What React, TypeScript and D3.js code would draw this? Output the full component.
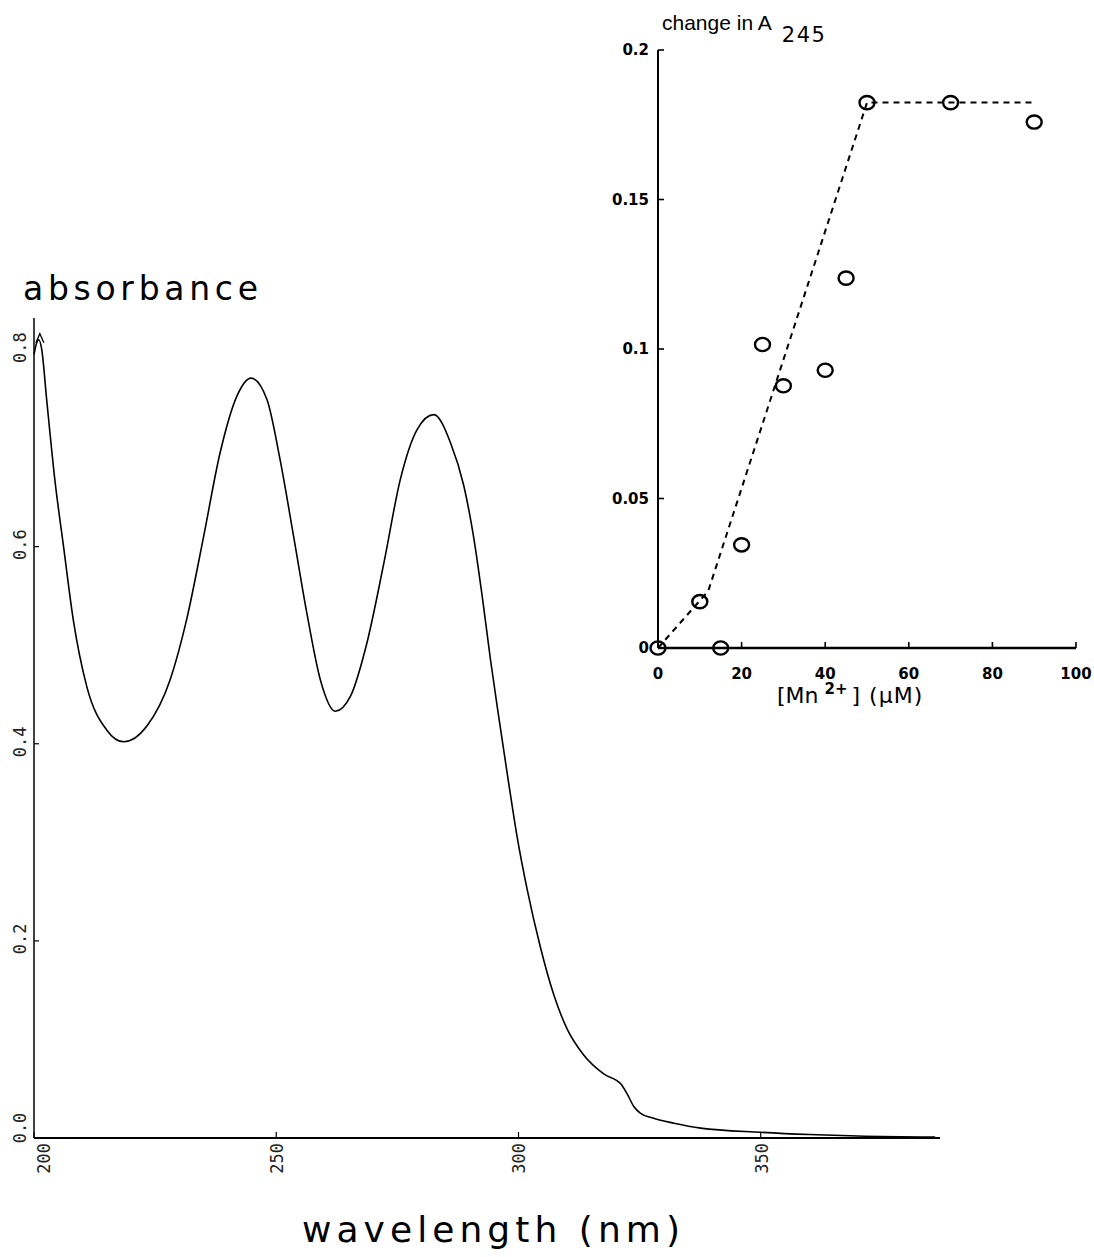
import React from "react";
import * as d3 from "d3";

// ---- main spectrum data ----
const wavelength = [
  200.0, 200.5, 201.0, 201.6, 202.6, 204.3, 206.1, 208.1, 210.9, 215.0, 218.5, 223.3, 228.1, 231.5,
  235.0, 238.4, 241.9, 244.8, 248.1, 250.8, 253.6, 256.3, 259.1, 262.2, 265.3, 268.7, 272.2, 275.6,
  279.1, 282.5, 286.0, 288.7, 290.8, 292.5, 294.2, 295.9, 297.7, 299.7, 301.8, 304.5, 307.3, 310.0,
  313.5, 317.6, 321.1, 322.4, 323.8, 325.2, 327.9, 332.1, 337.6, 350.0, 360.0, 370.0, 386.0,
];
const absorbance = [
  0.795, 0.806, 0.81, 0.8, 0.75, 0.668, 0.6, 0.526, 0.458, 0.414, 0.402, 0.418, 0.465, 0.526,
  0.61, 0.695, 0.753, 0.771, 0.749, 0.688, 0.61, 0.533, 0.465, 0.433, 0.448, 0.502, 0.583, 0.668,
  0.719, 0.734, 0.705, 0.662, 0.608, 0.55, 0.486, 0.428, 0.369, 0.306, 0.252, 0.194, 0.145, 0.111,
  0.084, 0.065, 0.055, 0.045, 0.032, 0.025, 0.02, 0.015, 0.01, 0.0058, 0.0035, 0.002, 0.001,
];
const mainXTicks = [200, 250, 300, 350];
const mainXTickLabels = ["200", "250", "300", "350"];
const mainYTicks = [0, 0.2, 0.4, 0.6, 0.8];
const mainYTickLabels = ["0.0", "0.2", "0.4", "0.6", "0.8"];

// ---- inset data ----
const mnConc = [0, 10, 15, 20, 25, 30, 40, 45, 50, 70, 90];
const deltaA245 = [0, 0.0155, 0, 0.0345, 0.1015, 0.0877, 0.0929, 0.1237, 0.1824, 0.1824, 0.1759];
const fitConc = [0, 12, 50, 90.5];
const fitDelta = [0, 0.019, 0.1824, 0.1824];
const insetXTicks = [0, 20, 40, 60, 80, 100];
const insetXTickLabels = ["0", "20", "40", "60", "80", "100"];
const insetYTicks = [0, 0.05, 0.1, 0.15, 0.2];
const insetYTickLabels = ["0", "0.05", "0.1", "0.15", "0.2"];

const W = 1094;
const H = 1257;

export default function App() {
  const x = d3.scaleLinear().domain([200, 387]).range([34, 940]);
  const y = d3.scaleLinear().domain([0, 0.832]).range([1138, 318]);
  const spectrum = wavelength.map((w, i) => [w, absorbance[i]] as [number, number]);
  const line = d3
    .line<[number, number]>()
    .x((d) => x(d[0]))
    .y((d) => y(d[1]))
    .curve(d3.curveMonotoneX);

  const ix = d3.scaleLinear().domain([0, 100]).range([658, 1076]);
  const iy = d3.scaleLinear().domain([0, 0.2]).range([648, 50]);
  const fit = fitConc.map((c, i) => [c, fitDelta[i]] as [number, number]);
  const fitLine = d3
    .line<[number, number]>()
    .x((d) => ix(d[0]))
    .y((d) => iy(d[1]));

  const peakX = x(wavelength[2]);
  const peakY = y(absorbance[2]);
  const tickFont = "'DejaVu Sans Mono', monospace";
  const labelFont = "'DejaVu Sans', sans-serif";
  const titleFont = "'Liberation Sans', Arial, sans-serif";
  const insetFont = "'DejaVu Sans', sans-serif";

  return (
    <svg
      width={W}
      height={H}
      viewBox={`0 0 ${W} ${H}`}
      style={{ position: "absolute", left: 0, top: 0, background: "#fff" }}
    >
      <rect x={0} y={0} width={W} height={H} fill="#fff" />
      {/* ===== main chart ===== */}
      <line x1={x(200)} x2={x(200)} y1={y(0)} y2={y(0.832)} stroke="#000" strokeWidth={1.5} />
      <line x1={x(200)} x2={x(387)} y1={y(0)} y2={y(0)} stroke="#000" strokeWidth={2} />
      {mainXTicks.map((t, i) => (
        <g key={"mx" + t}>
          <line x1={x(t)} x2={x(t)} y1={y(0)} y2={y(0) - 6} stroke="#000" strokeWidth={1.2} />
          <text
            transform={`translate(${x(t) + (i === 0 ? 10 : 1)},${y(0) + 5}) rotate(-90)`}
            textAnchor="end"
            dominantBaseline="central"
            fontFamily={tickFont}
            fontSize={17}
            fill="#222"
          >
            {mainXTickLabels[i]}
          </text>
        </g>
      ))}
      {mainYTicks.map((t, i) => (
        <g key={"my" + t}>
          {t > 0 && t < 0.8 && (
            <line x1={x(200)} x2={x(200) + 5} y1={y(t)} y2={y(t)} stroke="#000" strokeWidth={1.2} />
          )}
          <text
            transform={`translate(20,${y(t) - (i === 0 ? 10 : 2)}) rotate(-90)`}
            textAnchor="middle"
            dominantBaseline="central"
            fontFamily={tickFont}
            fontSize={17}
            fill="#222"
          >
            {mainYTickLabels[i]}
          </text>
        </g>
      ))}
      <path d={line(spectrum) || ""} fill="none" stroke="#000" strokeWidth={1.6} />
      <path
        d={`M${peakX - 3},${peakY + 3} L${peakX + 1},${peakY - 6} L${peakX + 5},${peakY + 3}`}
        fill="none"
        stroke="#000"
        strokeWidth={1.3}
      />
      <text x={23} y={300} fontFamily={labelFont} fontSize={33} textLength={235} lengthAdjust="spacing">
        absorbance
      </text>
      <text x={302} y={1242} fontFamily={labelFont} fontSize={36} textLength={378} lengthAdjust="spacing">
        wavelength (nm)
      </text>

      {/* ===== inset ===== */}
      <line x1={ix(0)} x2={ix(0)} y1={iy(0)} y2={iy(0.2)} stroke="#000" strokeWidth={2} />
      <line x1={ix(0)} x2={ix(100)} y1={iy(0)} y2={iy(0)} stroke="#000" strokeWidth={2.4} />
      {insetXTicks.map((t, i) => (
        <g key={"ix" + t}>
          {t > 0 && <line x1={ix(t)} x2={ix(t)} y1={iy(0)} y2={iy(0) - 6} stroke="#000" strokeWidth={1.6} />}
          <text
            x={ix(t)}
            y={iy(0) + 31}
            textAnchor="middle"
            fontFamily={insetFont}
            fontWeight="bold"
            fontSize={15}
            fill="#000"
          >
            {insetXTickLabels[i]}
          </text>
        </g>
      ))}
      {insetYTicks.map((t, i) => (
        <g key={"iy" + t}>
          {t > 0 && <line x1={ix(0)} x2={ix(0) + 6} y1={iy(t)} y2={iy(t)} stroke="#000" strokeWidth={1.6} />}
          <text
            x={ix(0) - 9}
            y={iy(t)}
            textAnchor="end"
            dominantBaseline="central"
            fontFamily={insetFont}
            fontWeight="bold"
            fontSize={15}
            fill="#000"
          >
            {insetYTickLabels[i]}
          </text>
        </g>
      ))}
      <path
        d={fitLine(fit) || ""}
        fill="none"
        stroke="#000"
        strokeWidth={2}
        strokeDasharray="6,5"
      />
      {mnConc.map((c, i) => (
        <ellipse
          key={"pt" + i}
          cx={ix(c)}
          cy={iy(deltaA245[i])}
          rx={7.5}
          ry={6.6}
          fill="none"
          stroke="#000"
          strokeWidth={2.4}
        />
      ))}
      <text x={662} y={30} fontFamily={titleFont} fontSize={21} fill="#000">
        change in A
        <tspan dx={10} dy={12} fontFamily={labelFont} fontSize={21} letterSpacing={1.5}>
          245
        </tspan>
      </text>
      <text x={777} y={703} fontFamily={labelFont} fontSize={22} fill="#000">
        [Mn
        <tspan dx={6} dy={-9} fontSize={15} fontWeight="bold">
          2+
        </tspan>
        <tspan dx={4} dy={9} letterSpacing={1}>
          ] (μM)
        </tspan>
      </text>
    </svg>
  );
}
